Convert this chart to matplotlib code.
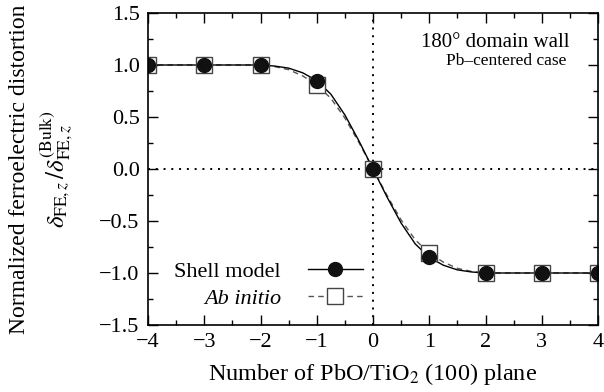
import numpy as np
import matplotlib.pyplot as plt
from matplotlib.ticker import MultipleLocator

# Data
planes = [-4, -3, -2, -1, 0, 1, 2, 3, 4]
shell_pts = [1.0, 1.0, 1.0, 0.85, 0.0, -0.85, -1.0, -1.0, -1.0]
abinitio_pts = [1.0, 1.0, 1.0, 0.81, 0.0, -0.81, -1.0, -1.0, -1.0]

# smooth guide curves
curve_x = [-4, -3, -2, -1.75, -1.5, -1.25, -1.0, -0.75, -0.5, -0.25, 0.0,
           0.25, 0.5, 0.75, 1.0, 1.25, 1.5, 1.75, 2.0, 3.0, 4.0]
shell_curve = [1.0, 1.0, 1.0, 0.99, 0.97, 0.925, 0.85, 0.72, 0.52, 0.27, 0.0,
               -0.27, -0.52, -0.72, -0.85, -0.925, -0.97, -0.99, -1.0, -1.0, -1.0]
abinitio_curve = [1.0, 1.0, 1.0, 0.985, 0.955, 0.895, 0.81, 0.68, 0.49, 0.255, 0.0,
                  -0.255, -0.49, -0.68, -0.81, -0.895, -0.955, -0.985, -1.0, -1.0, -1.0]

plt.rcParams['font.family'] = 'Liberation Serif'
plt.rcParams['mathtext.fontset'] = 'stix'

fig = plt.figure(figsize=(6.04, 3.92), dpi=100)
ax = fig.add_axes([148/604, 1-325/392, 450/604, 312/392])

ax.axvline(0, color='black', ls=(0, (1, 3)), lw=1.4)
ax.axhline(0, color='black', ls=(0, (1, 3)), lw=1.4)

ax.plot(curve_x, abinitio_curve, color='#555555', ls=(0, (4, 3)), lw=1.0)
ax.plot(curve_x, shell_curve, color='black', lw=1.0)
ax.plot(planes, abinitio_pts, ls='none', marker='s', ms=11.5, mfc='white',
        mec='#444444', mew=1.0)
ax.plot(planes, shell_pts, ls='none', marker='o', ms=10, mfc='#111111',
        mec='#111111')

# legend handles
l1, = ax.plot([], [], color='black', lw=1.0, marker='o', ms=10,
              mfc='#111111', mec='#111111')
l2, = ax.plot([], [], color='#555555', ls=(0, (4, 3)), lw=1.0, marker='s',
              ms=11.5, mfc='white', mec='#444444')
leg = ax.legend([l1, l2], ['Shell model', 'Ab initio'], loc='center right',
                bbox_to_anchor=(0.478, 0.128), frameon=False, markerfirst=False,
                fontsize=16, handlelength=2.5, labelspacing=0.3,
                handletextpad=1.2, borderpad=0, borderaxespad=0)
leg.get_texts()[1].set_style('italic')

ax.set_xlim(-4, 4)
ax.set_ylim(-1.5, 1.5)
ax.xaxis.set_minor_locator(MultipleLocator(0.5))
ax.yaxis.set_minor_locator(MultipleLocator(0.25))
ax.set_xticks(range(-4, 5))
ax.set_xticklabels(['\u2212%d' % abs(v) if v < 0 else '%d' % v
                    for v in range(-4, 5)])
yt = np.arange(-1.5, 1.51, 0.5)
ax.set_yticks(yt)
ax.set_yticklabels([('\u2212%.1f' % abs(v)) if v < -1e-9 else '%.1f' % abs(v)
                    for v in yt])
ax.tick_params(which='both', direction='in', top=True, right=True,
               labelsize=16, width=1.0)
ax.tick_params(which='major', length=7, pad=6)
ax.tick_params(which='minor', length=3.5)
for s in ax.spines.values():
    s.set_linewidth(1.2)

ax.set_xlabel('Number of PbO/TiO$_2$ (100) plane', fontsize=17.5, labelpad=6)

fig.text(0.033, 1-169/392, 'Normalized ferroelectric distortion',
         rotation=90, ha='center', va='center', fontsize=17)
fig.text(0.093, 1-169/392,
         r'$\delta_{\mathrm{FE},z}\,/\delta_{\mathrm{FE},z}^{\mathrm{(Bulk)}}$',
         rotation=90, ha='center', va='center', fontsize=18)

ax.text(0.937, 0.905, '180\u00b0 domain wall', transform=ax.transAxes,
        ha='right', va='center', fontsize=15)
ax.text(0.93, 0.845, 'Pb\u2013centered case', transform=ax.transAxes,
        ha='right', va='center', fontsize=12.5)

fig.savefig('out.png', dpi=100)
